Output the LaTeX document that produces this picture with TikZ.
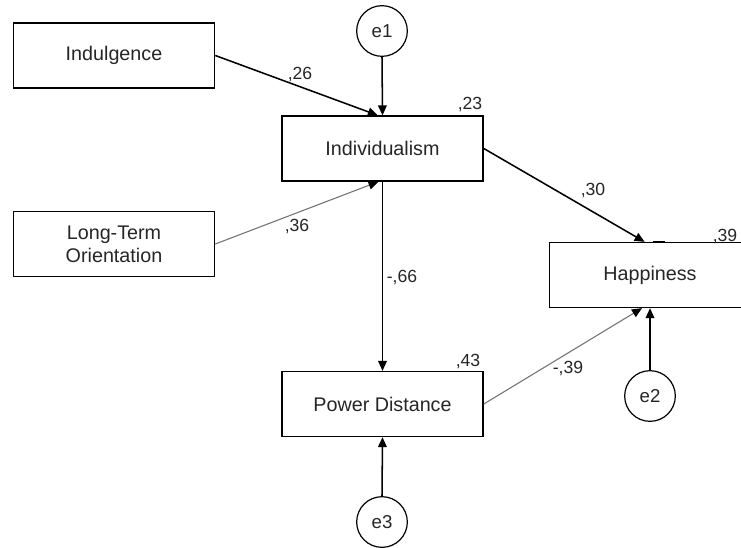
\documentclass[tikz,border=0pt]{standalone}
\usepackage{fontspec}
\setmainfont{Liberation Sans}
\usetikzlibrary{arrows.meta,calc}
\begin{document}
\begin{tikzpicture}[x=0.75pt,y=-0.75pt,
  box/.style={draw=black,line width=1.2pt,minimum width=150.75pt,minimum height=48.5pt,inner sep=0pt,align=center,font=\fontsize{14.8}{17}\selectfont,text=black!85},
  err/.style={draw=black,line width=0.9pt,circle,minimum size=38pt,inner sep=0pt,font=\fontsize{14}{16}\selectfont,text=black!85},
  path/.style={draw=black,line width=1.15pt,-{Triangle[length=7.5pt,width=6.5pt]}},
  gpath/.style={draw=black!55,line width=0.8pt,-{Triangle[length=7.5pt,width=6.5pt,color=black]}},
  lab/.style={font=\fontsize{13.2}{15}\selectfont,text=black!85,inner sep=0pt}]
\clip (0,0) rectangle (741,547);
\fill[white] (0,0) rectangle (741,547);
\node[box] (indul) at (114,55.5) {Indulgence};
\node[box] (lto) at (114,244) {Long-Term\\Orientation};
\node[box] (indiv) at (382.5,148.5) {Individualism};
\node[box] (pd) at (382.5,404) {Power Distance};
\node[box] (hap) at (650,275) {Happiness};
\node[err] (e1) at (382,31) {e1};
\node[err] (e2) at (650,396) {e2};
\node[err] (e3) at (382,522) {e3};
\draw[path] (indul.east) -- ([xshift=-3.5pt]indiv.north);
\draw[path] (e1.south) -- (indiv.north);
\draw[gpath] (lto.east) -- ([xshift=-3pt]indiv.south);
\draw[path] (indiv.east) -- ([xshift=-4pt]hap.north);
\draw[path] (indiv.south) -- (pd.north);
\draw[gpath] (pd.east) -- ([xshift=-6pt]hap.south);
\draw[path] (e2.north) -- (hap.south);
\draw[path] (e3.north) -- (pd.south);
\coordinate (tk1) at ([xshift=2pt]hap.north);
\coordinate (tk2) at ([xshift=11.5pt]hap.north);
\draw[line width=1.6pt] (tk1) -- (tk2);
\node[lab] (l26) at (300,74) {,26};
\node[lab] (l36) at (297,226) {,36};
\node[lab] (l23) at (470,104) {,23};
\node[lab] (l30) at (593,190) {,30};
\node[lab] (l66) at (402,277) {-,66};
\node[lab] (l43) at (468,361) {,43};
\node[lab] (l39b) at (568,368) {-,39};
\node[lab] (l39a) at (725,236) {,39};
\end{tikzpicture}
\end{document}
